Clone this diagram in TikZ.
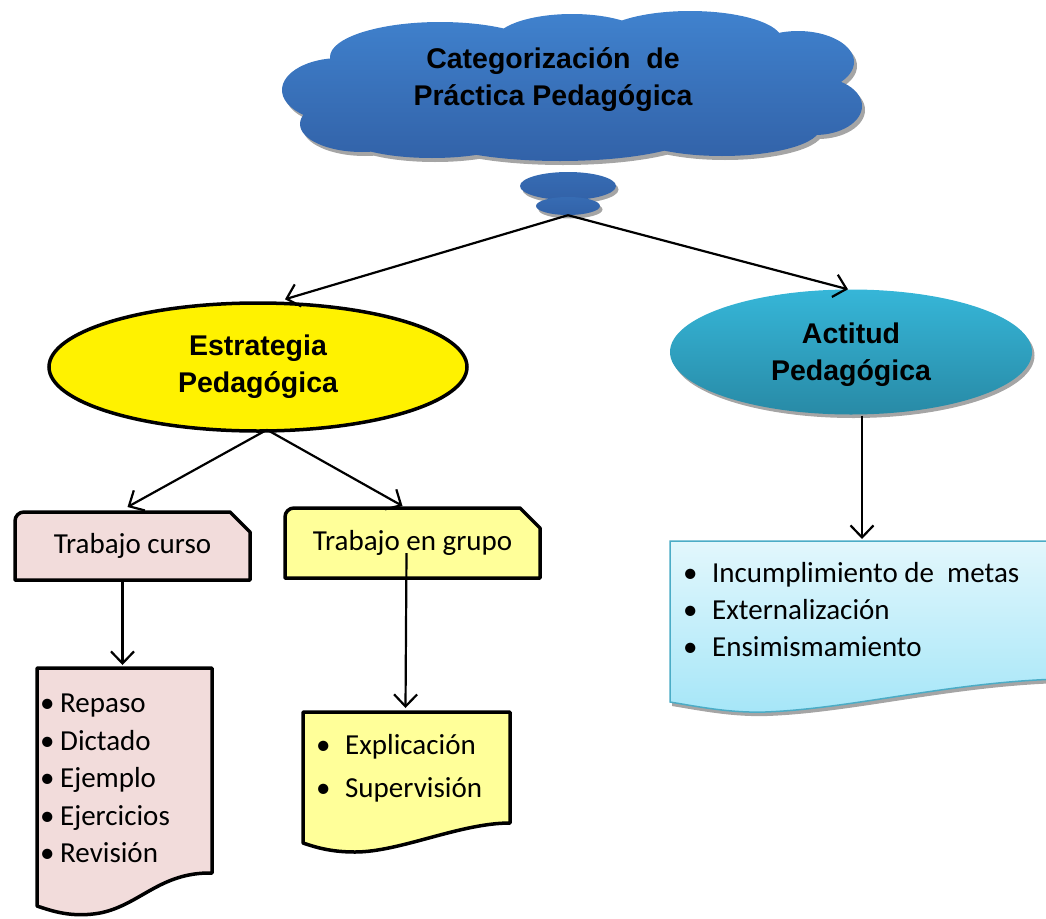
\documentclass[tikz,border=0pt]{standalone}
\usepackage{fontspec}
\setmainfont{Carlito}
\newfontfamily\headfont{Liberation Sans}
\usetikzlibrary{arrows.meta,shapes.geometric,shadows}
\definecolor{cloudtop}{RGB}{64,130,206}
\definecolor{cloudbot}{RGB}{50,98,168}
\definecolor{acttop}{RGB}{54,182,216}
\definecolor{actbot}{RGB}{40,138,166}
\definecolor{pinkc}{RGB}{242,220,219}
\definecolor{lyel}{RGB}{255,255,153}
\definecolor{doctop}{RGB}{226,247,252}
\definecolor{docbot}{RGB}{166,230,248}
\definecolor{docline}{RGB}{75,172,198}
\definecolor{shadowc}{RGB}{165,165,165}
\newcommand\bul[2]{\makebox[#1][l]{\textbullet}#2}
\begin{document}
\begin{tikzpicture}[x=1pt,y=-1pt,
  arr/.style={line width=2.2pt,-{Straight Barb[length=12pt,width=23pt,line width=2.2pt]}},
  headtxt/.style={font=\headfont\bfseries\fontsize{28.5}{37}\selectfont, align=center},
  bodytxt/.style={font=\fontsize{29}{37.5}\selectfont},
  listtxt/.style={bodytxt, align=left, anchor=north west, inner sep=0pt},
  boxline/.style={draw=black, line width=3.5pt, line join=round},
  plain/.style={inner sep=0pt, outer sep=0pt, rectangle},
  crispshadow/.style={general shadow={fill=shadowc, shadow xshift=2.5pt, shadow yshift=-3.5pt}},
]
\useasboundingbox (0,0) rectangle (1046,918);
\clip (0,0) rectangle (1046,918);

% ---------- cloud ----------
\def\cloudshape{%
 (570,95) ellipse [x radius=265pt, y radius=55pt]
 (340,90) ellipse [x radius=58pt, y radius=32pt]
 (362,124) ellipse [x radius=62pt, y radius=28pt]
 (440,57) ellipse [x radius=110pt, y radius=35pt]
 (572,42) ellipse [x radius=78pt, y radius=28pt]
 (690,40) ellipse [x radius=92pt, y radius=29pt]
 (798,62) ellipse [x radius=56pt, y radius=31pt]
 (815,106) ellipse [x radius=47pt, y radius=29pt]
 (560,130) ellipse [x radius=140pt, y radius=31pt]
 (722,128) ellipse [x radius=98pt, y radius=28pt]
 (432,134) ellipse [x radius=90pt, y radius=24pt]}
\fill[shadowc, shift={(3,4)}] \cloudshape;
\shade[top color=cloudtop, bottom color=cloudbot] \cloudshape;
\node[headtxt] (cloud) at (553,80) {Categorización~~de\\Práctica Pedagógica};
\node[ellipse, inner sep=0pt, minimum width=96pt, minimum height=28pt,
      top color=cloudbot!70!cloudtop, bottom color=cloudbot, crispshadow] (puff1) at (568,186) {};
\node[ellipse, inner sep=0pt, minimum width=64pt, minimum height=18pt,
      top color=cloudbot!70!cloudtop, bottom color=cloudbot, crispshadow] (puff2) at (568,206) {};

% ---------- ellipses ----------
\node[ellipse, draw=black, line width=3.5pt, fill=yellow, minimum width=418pt, minimum height=128pt,
      headtxt] (estr) at (258,367) {Estrategia\\Pedagógica};
\node[ellipse, minimum width=362pt, minimum height=125pt, top color=acttop, bottom color=actbot,
      crispshadow] (act) at (851,352) {};
\node[headtxt] (acttxt) at (851,355) {Actitud\\Pedagógica};

% ---------- boxes with clipped corner ----------
\path[boxline, fill=pinkc] (15,580) [rounded corners=9pt] -- (15,512) [sharp corners] -- (230,512) -- (250,532) -- (250,580) -- cycle;
\node[plain, bodytxt, minimum width=235pt, minimum height=68pt] (tc) at (132.5,546) {Trabajo curso};

\path[boxline, fill=lyel] (285,578) [rounded corners=9pt] -- (285,508) [sharp corners] -- (520,508) -- (540,528) -- (540,578) -- cycle;
\node[plain, bodytxt, minimum width=255pt, minimum height=70pt] (tg) at (412.5,543) {Trabajo en grupo};

% ---------- documents ----------
\path[boxline, fill=pinkc] (37,668) -- (212,668) -- (212,873)
   .. controls (160,872) and (140,905) .. (100,913)
   .. controls (72,918) and (52,911) .. (37,906) -- cycle;
\node[plain, minimum width=175pt, minimum height=205pt] (doc1) at (124.5,770.5) {};
\node[listtxt] (list1) at (40,694) {\bul{20pt}{Repaso}\\\bul{20pt}{Dictado}\\\bul{20pt}{Ejemplo}\\\bul{20pt}{Ejercicios}\\\bul{20pt}{Revisión}};

\path[boxline, fill=lyel] (303,712) -- (510,712) -- (510,823)
   .. controls (460,823) and (400,852) .. (355,852)
   .. controls (330,852) and (315,847) .. (303,843) -- cycle;
\node[plain, minimum width=207pt, minimum height=111pt] (doc2) at (406.5,767.5) {};
\node[listtxt, font=\fontsize{29}{43}\selectfont] (list2) at (316,734) {\bul{29pt}{Explicación}\\\bul{29pt}{Supervisión}};

\fill[shadowc, shift={(2,4)}] (670,702) .. controls (700,707) and (730,713) .. (765,712)
   .. controls (850,709) and (950,682) .. (1060,679) -- (1060,541) -- (670,541) -- cycle;
\shade[top color=doctop, bottom color=docbot, draw=docline, line width=1.5pt]
   (670,702) .. controls (700,707) and (730,713) .. (765,712)
   .. controls (850,709) and (950,682) .. (1060,679) -- (1060,541) -- (670,541) -- cycle;
\node[plain, minimum width=390pt, minimum height=140pt] (doc3) at (865,611) {};
\node[listtxt, font=\fontsize{29}{37}\selectfont] (list3) at (683,562) {\bul{29pt}{Incumplimiento de~~metas}\\\bul{29pt}{Externalización}\\\bul{29pt}{Ensimismamiento}};

% ---------- connectors ----------
\draw[arr] (puff2.south) -- ([xshift=27pt,yshift=2pt]estr.north);
\draw[arr] (puff2.south) -- ([xshift=-3pt]act.north);
\draw[arr] ([xshift=9pt,yshift=3pt]estr.south) -- ([xshift=-5pt,yshift=5pt]tc.north);
\draw[arr] ([xshift=9pt,yshift=3pt]estr.south) -- ([xshift=-10pt,yshift=2pt]tg.north);
\draw[arr] ([xshift=-10pt]tc.south) -- ([xshift=-2pt,yshift=3pt]doc1.north);
\draw[arr] ([xshift=-6pt,yshift=-10pt]tg.center) -- ([xshift=-1pt,yshift=4pt]doc2.north);
\draw[arr] ([xshift=11pt,yshift=-1pt]act.south) -- ([xshift=-3pt,yshift=2pt]doc3.north);
\end{tikzpicture}
\end{document}
